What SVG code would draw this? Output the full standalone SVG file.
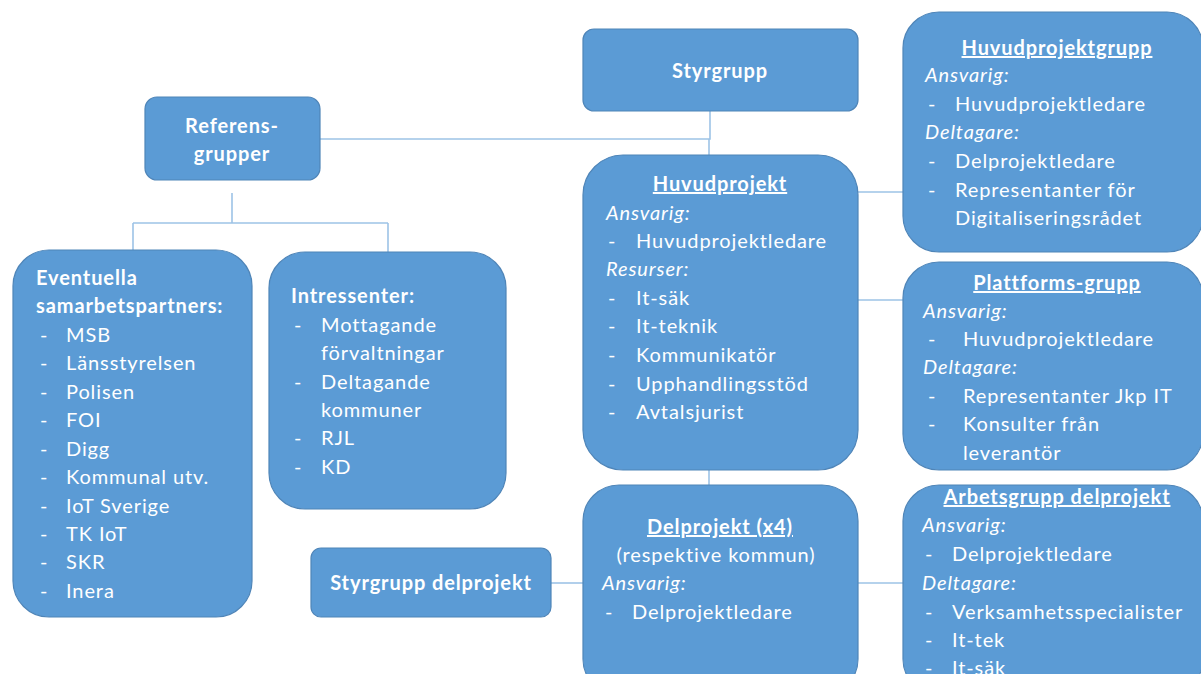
<svg xmlns="http://www.w3.org/2000/svg" width="1201" height="674" viewBox="0 0 1201 674">
  <style>
    .box { fill: #5B9BD5; stroke: #4F85B8; stroke-width: 1.2; }
    .conn { fill: none; stroke: #9DC3E6; stroke-width: 1.6; }
    text { font-family: Lato, "Open Sans", sans-serif; font-size: 20px; letter-spacing: 0.9px; fill: #FFFFFF; }
    .b { font-weight: bold; }
    .u { text-decoration: underline; }
    .i { font-style: italic; }
    .c { text-anchor: middle; }
  </style>
  <rect width="1201" height="674" fill="#FFFFFF"/>

  <!-- connectors -->
  <g id="connectors">
    <path class="conn" d="M320,139 H710 V111"/>
    <path class="conn" d="M709,139 V155"/>
    <path class="conn" d="M232,193 V223 M133,223 H388 M133,223 V250 M388,223 V252"/>
    <path class="conn" d="M858,192 H903"/>
    <path class="conn" d="M858,300 H903"/>
    <path class="conn" d="M709,470 V485"/>
    <path class="conn" d="M551,583 H583"/>
    <path class="conn" d="M858,583 H903"/>
  </g>

  <g id="styrgrupp">
    <rect class="box" x="583" y="29" width="275" height="82" rx="11"/>
    <text class="b c" x="720" y="78">Styrgrupp</text>
  </g>

  <g id="referensgrupper">
    <rect class="box" x="145" y="97" width="175" height="83" rx="12"/>
    <text class="b c" x="232" y="133">Referens-</text>
    <text class="b c" x="232" y="161">grupper</text>
  </g>

  <g id="samarbetspartners">
    <rect class="box" x="13" y="250" width="239" height="367" rx="36"/>
    <text class="b" x="36" y="285">Eventuella</text>
    <text class="b" x="36" y="313">samarbetspartners:</text>
    <g>
      <text x="40" y="342">-</text><text x="66" y="342">MSB</text>
      <text x="40" y="370">-</text><text x="66" y="370">Länsstyrelsen</text>
      <text x="40" y="399">-</text><text x="66" y="399">Polisen</text>
      <text x="40" y="427">-</text><text x="66" y="427">FOI</text>
      <text x="40" y="456">-</text><text x="66" y="456">Digg</text>
      <text x="40" y="484">-</text><text x="66" y="484">Kommunal utv.</text>
      <text x="40" y="513">-</text><text x="66" y="513">IoT Sverige</text>
      <text x="40" y="541">-</text><text x="66" y="541">TK IoT</text>
      <text x="40" y="569">-</text><text x="66" y="569">SKR</text>
      <text x="40" y="598">-</text><text x="66" y="598">Inera</text>
    </g>
  </g>

  <g id="intressenter">
    <rect class="box" x="269" y="252" width="237" height="257" rx="36"/>
    <text class="b" x="291" y="303">Intressenter:</text>
    <text x="294" y="332">-</text><text x="321" y="332">Mottagande</text>
    <text x="321" y="360">förvaltningar</text>
    <text x="294" y="389">-</text><text x="321" y="389">Deltagande</text>
    <text x="321" y="417">kommuner</text>
    <text x="294" y="445">-</text><text x="321" y="445">RJL</text>
    <text x="294" y="474">-</text><text x="321" y="474">KD</text>
  </g>

  <g id="huvudprojekt">
    <rect class="box" x="583" y="155" width="275" height="315" rx="40"/>
    <text class="b u c" x="720" y="191">Huvudprojekt</text>
    <text class="i" x="606" y="220">Ansvarig:</text>
    <text x="608" y="248">-</text><text x="636" y="248">Huvudprojektledare</text>
    <text class="i" x="606" y="276">Resurser:</text>
    <text x="608" y="305">-</text><text x="636" y="305">It-säk</text>
    <text x="608" y="333">-</text><text x="636" y="333">It-teknik</text>
    <text x="608" y="362">-</text><text x="636" y="362">Kommunikatör</text>
    <text x="608" y="391">-</text><text x="636" y="391">Upphandlingsstöd</text>
    <text x="608" y="419">-</text><text x="636" y="419">Avtalsjurist</text>
  </g>

  <g id="huvudprojektgrupp">
    <rect class="box" x="903" y="12" width="300" height="240" rx="36"/>
    <text class="b u c" x="1057" y="55">Huvudprojektgrupp</text>
    <text class="i" x="925" y="82">Ansvarig:</text>
    <text x="928" y="111">-</text><text x="955" y="111">Huvudprojektledare</text>
    <text class="i" x="925" y="139">Deltagare:</text>
    <text x="928" y="168">-</text><text x="955" y="168">Delprojektledare</text>
    <text x="928" y="197">-</text><text x="955" y="197">Representanter för</text>
    <text x="955" y="225">Digitaliseringsrådet</text>
  </g>

  <g id="plattformsgrupp">
    <rect class="box" x="903" y="262" width="300" height="208" rx="36"/>
    <text class="b u c" x="1057" y="290">Plattforms-grupp</text>
    <text class="i" x="923" y="318">Ansvarig:</text>
    <text x="928" y="346">-</text><text x="963" y="346">Huvudprojektledare</text>
    <text class="i" x="923" y="374">Deltagare:</text>
    <text x="928" y="403">-</text><text x="963" y="403">Representanter Jkp IT</text>
    <text x="928" y="431">-</text><text x="963" y="431">Konsulter från</text>
    <text x="963" y="460">leverantör</text>
  </g>

  <g id="delprojekt">
    <rect class="box" x="583" y="485" width="275" height="210" rx="36"/>
    <text class="b u c" x="720" y="534">Delprojekt (x4)</text>
    <text class="c" x="716" y="562">(respektive kommun)</text>
    <text class="i" x="602" y="590">Ansvarig:</text>
    <text x="605" y="619">-</text><text x="632" y="619">Delprojektledare</text>
  </g>

  <g id="styrgrupp-delprojekt">
    <rect class="box" x="311" y="548" width="240" height="69" rx="10"/>
    <text class="b c" x="431" y="590">Styrgrupp delprojekt</text>
  </g>

  <g id="arbetsgrupp-delprojekt">
    <rect class="box" x="903" y="485" width="300" height="210" rx="36"/>
    <text class="b u c" x="1057" y="504">Arbetsgrupp delprojekt</text>
    <text class="i" x="922" y="532">Ansvarig:</text>
    <text x="925" y="561">-</text><text x="952" y="561">Delprojektledare</text>
    <text class="i" x="922" y="590">Deltagare:</text>
    <text x="925" y="619">-</text><text x="952" y="619">Verksamhetsspecialister</text>
    <text x="925" y="647">-</text><text x="952" y="647">It-tek</text>
    <text x="925" y="675">-</text><text x="952" y="675">It-säk</text>
  </g>
</svg>
